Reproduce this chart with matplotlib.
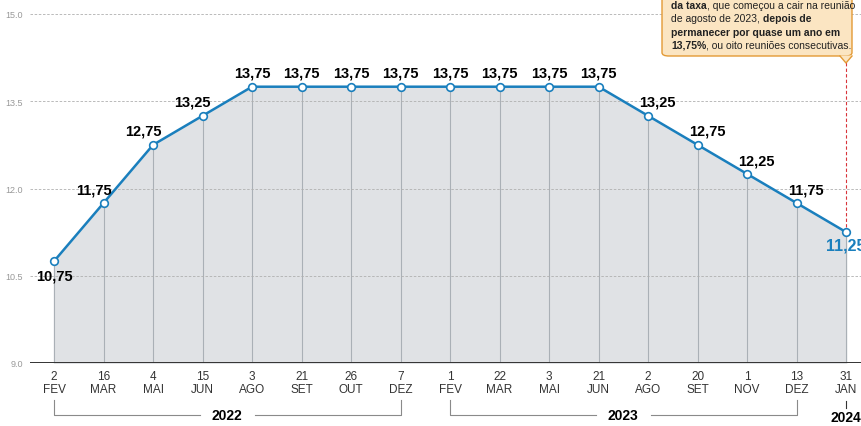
import matplotlib.pyplot as plt
from matplotlib.patches import FancyBboxPatch, Polygon
from matplotlib.transforms import blended_transform_factory

plt.rcParams['font.family'] = ['Liberation Sans Narrow', 'Liberation Sans', 'DejaVu Sans']

days = ['2', '16', '4', '15', '3', '21', '26', '7', '1', '22', '3', '21', '2', '20', '1', '13', '31']
months = ['FEV', 'MAR', 'MAI', 'JUN', 'AGO', 'SET', 'OUT', 'DEZ',
          'FEV', 'MAR', 'MAI', 'JUN', 'AGO', 'SET', 'NOV', 'DEZ', 'JAN']
selic = [10.75, 11.75, 12.75, 13.25, 13.75, 13.75, 13.75, 13.75, 13.75,
         13.75, 13.75, 13.75, 13.25, 12.75, 12.25, 11.75, 11.25]
yticks = [9.0, 10.5, 12.0, 13.5, 15.0]
years = [('2022', 0, 7), ('2023', 8, 15)]

blue = '#1a7fbd'
x = list(range(len(selic)))

fig = plt.figure(figsize=(8.61, 4.27), dpi=100)
ax = fig.add_axes([30 / 861, 63 / 427, 831 / 861, 349 / 427])
ax.set_xlim(-0.485, 16.30)
ax.set_ylim(9, 15)

ax.fill_between(x, 9, selic, color='#e0e2e5', zorder=1)
for xi, v in zip(x, selic):
    ax.plot([xi, xi], [9, v], color='#aab0b6', lw=0.8, zorder=2)
for yt in yticks[1:]:
    ax.axhline(yt, color='#b0b0b0', lw=0.6, ls=(0, (3, 2)), zorder=3)
ax.axhline(9, color='#333333', lw=1.4, zorder=4)

ax.plot(x, selic, color=blue, lw=1.8, zorder=5)
ax.plot(x, selic, 'o', ms=5.5, mfc='white', mec=blue, mew=1.2, zorder=6)

for xi, v in zip(x, selic):
    lab = f'{v:.2f}'.replace('.', ',')
    if xi == 0:
        ax.annotate(lab, (xi, v), xytext=(0, -5), textcoords='offset points',
                    ha='center', va='top', fontsize=10.5, fontweight='bold', zorder=7)
    elif xi == len(selic) - 1:
        ax.annotate(lab, (xi, v), xytext=(0, -4), textcoords='offset points',
                    ha='center', va='top', fontsize=11.5, fontweight='bold',
                    color=blue, zorder=7, annotation_clip=False)
    else:
        if xi < 4:
            dx = -7
        elif xi > 11:
            dx = 7
        else:
            dx = 0
        ax.annotate(lab, (xi, v), xytext=(dx, 5), textcoords='offset points',
                    ha='center', va='bottom', fontsize=10.5, fontweight='bold', zorder=7)

ax.set_xticks(x)
ax.set_xticklabels([f'{d}\n{m}' for d, m in zip(days, months)],
                   fontsize=8.5, color='#333333', linespacing=1.1)
ax.set_yticks(yticks)
ax.set_yticklabels([f'{t:.1f}' for t in yticks], fontsize=6.5, color='#999999')
ax.tick_params(axis='x', length=0, pad=5)
ax.tick_params(axis='y', length=0, pad=5)
for s in ax.spines.values():
    s.set_visible(False)

# year brackets under the axis
tr = blended_transform_factory(ax.transData, ax.transAxes)
yb_top, yb_bot = -37 / 349, -52 / 349
for name, i0, i1 in years:
    mid = (i0 + i1) / 2
    half = 0.55
    ax.plot([i0, i0, mid - half], [yb_top, yb_bot, yb_bot], color='#8a8a8a',
            lw=0.8, transform=tr, clip_on=False)
    ax.plot([mid + half, i1, i1], [yb_bot, yb_bot, yb_top], color='#8a8a8a',
            lw=0.8, transform=tr, clip_on=False)
    ax.text(mid, yb_bot, name, ha='center', va='center', fontsize=10,
            fontweight='bold', transform=tr)
ax.plot([16, 16], [-38 / 349, -45 / 349], color='#333333', lw=0.8,
        transform=tr, clip_on=False)
ax.text(16, -54 / 349, '2024', ha='center', va='center', fontsize=10,
        fontweight='bold', transform=tr)

# annotation box at top right
H = 427
W = 861
box = FancyBboxPatch((662 / W, (H - 57) / H), 190 / W, 80 / H,
                     boxstyle='round,pad=0,rounding_size=0.008',
                     transform=fig.transFigure, facecolor='#fbe5c2',
                     edgecolor='#e39a35', lw=1.0, zorder=10)
fig.add_artist(box)
tri = Polygon([(840 / W, (H - 56.5) / H), (852 / W, (H - 56.5) / H), (846 / W, (H - 64) / H)],
              closed=True, transform=fig.transFigure, facecolor='#fbe5c2',
              edgecolor='none', zorder=11)
fig.add_artist(tri)
fig.add_artist(plt.Line2D([840 / W, 846 / W, 852 / W],
                          [(H - 57) / H, (H - 64) / H, (H - 57) / H],
                          transform=fig.transFigure, color='#e39a35', lw=1.0, zorder=12))
ax.plot([16, 16], [selic[-1] + 0.08, 15.2], color='#d8343a', lw=0.8,
        ls=(0, (3, 2)), zorder=4, clip_on=False)

lines = [
    [('da taxa', 'bold'), (', que começou a cair na reunião', 'normal')],
    [('de agosto de 2023, ', 'normal'), ('depois de', 'bold')],
    [('permanecer por quase um ano em', 'bold')],
    [('13,75%', 'bold'), (', ou oito reuniões consecutivas.', 'normal')],
]
line_y = [6, 19.5, 32.5, 45.5]
renderer = fig.canvas.get_renderer()
for segs, ly in zip(lines, line_y):
    xpos = 671 / W
    for txt, w in segs:
        t = fig.text(xpos, (H - ly) / H, txt, fontsize=7.5, fontweight=w,
                     ha='left', va='center', color='#222222', zorder=13)
        bb = t.get_window_extent(renderer)
        xpos += bb.width / W

fig.savefig('out.png', dpi=100)
